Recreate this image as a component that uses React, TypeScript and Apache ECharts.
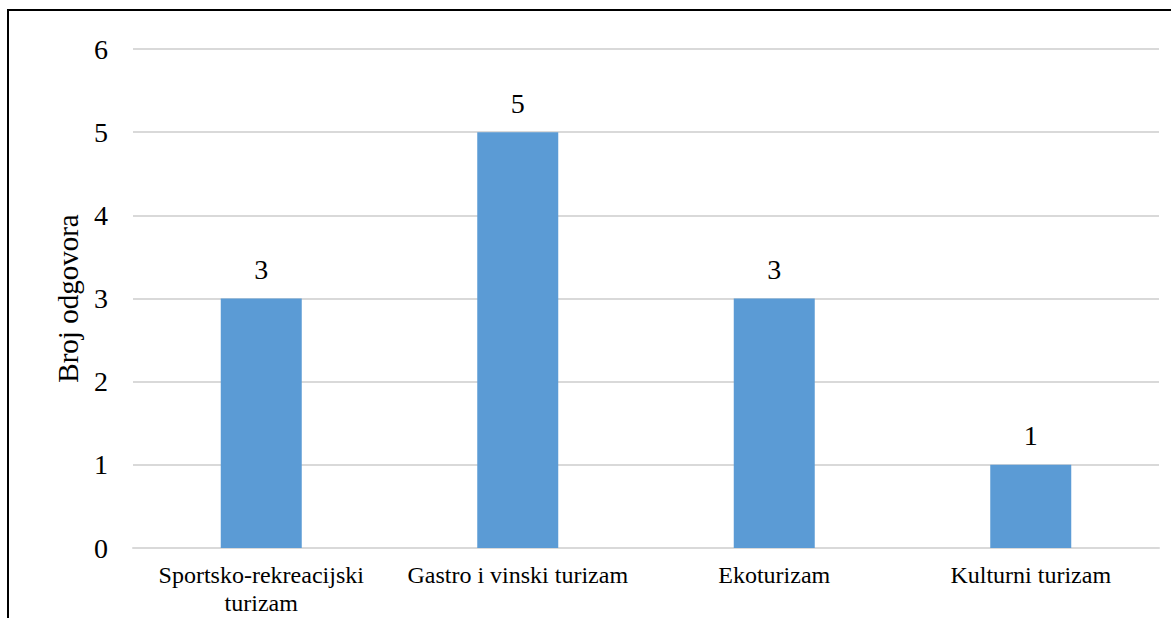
import React, { useEffect, useRef } from "react";
import * as echarts from "echarts";

const categories = ["Sportsko-rekreacijski\nturizam", "Gastro i vinski turizam", "Ekoturizam", "Kulturni turizam"];
const values = [3, 5, 3, 1];
const axisName = "Broj odgovora";

export default function App() {
  const ref = useRef<HTMLDivElement>(null);
  useEffect(() => {
    document.body.style.margin = "0";
    const chart = echarts.init(ref.current!, null, { renderer: "svg" });
    const font = "Liberation Serif, Times New Roman, serif";
    chart.setOption({
      animation: false,
      grid: { left: 133, right: 12, top: 49, bottom: 70, containLabel: false },
      xAxis: {
        type: "category",
        data: categories,
        axisLine: { show: true, lineStyle: { color: "#d9d9d9", width: 2 } },
        axisTick: { show: false },
        axisLabel: { color: "#000", fontFamily: font, fontSize: 24, margin: 13, lineHeight: 28, interval: 0 },
      },
      yAxis: {
        type: "value",
        min: 0,
        max: 6,
        interval: 1,
        name: axisName,
        nameLocation: "middle",
        nameGap: 51,
        nameTextStyle: { color: "#000", fontFamily: font, fontSize: 29 },
        axisLine: { show: false },
        axisTick: { show: false },
        axisLabel: { color: "#000", fontFamily: font, fontSize: 28, margin: 25 },
        splitLine: { lineStyle: { color: "#d9d9d9", width: 2 } },
      },
      series: [
        {
          type: "bar",
          data: values,
          barWidth: 81,
          itemStyle: { color: "#5b9bd5" },
          label: { show: true, position: "top", distance: 15, color: "#000", fontFamily: font, fontSize: 28 },
        },
      ],
      graphic: [
        { type: "line", shape: { x1: 7, y1: 10, x2: 1171, y2: 10 }, style: { stroke: "#000", lineWidth: 2 } },
        { type: "line", shape: { x1: 8, y1: 9, x2: 8, y2: 618 }, style: { stroke: "#000", lineWidth: 2 } },
      ],
    });
    return () => chart.dispose();
  }, []);
  return <div ref={ref} style={{ width: 1171, height: 618 }} />;
}
